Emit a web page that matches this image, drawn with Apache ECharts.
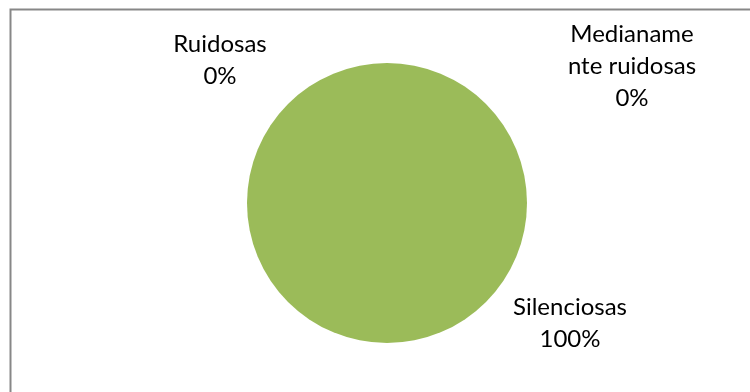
<!DOCTYPE html>
<html>
<head>
<meta charset="utf-8">
<script src="https://cdn.jsdelivr.net/npm/echarts@6/dist/echarts.min.js"></script>
<style>
  html, body { margin: 0; padding: 0; background: #ffffff; }
  #chart { width: 750px; height: 392px; }
</style>
</head>
<body>
<div id="chart"></div>
<script>
// Noise classification of the surveyed spaces
const categories = ['Silenciosas', 'Medianamente ruidosas', 'Ruidosas'];
const labelNames = ['Silenciosas', 'Medianame\nnte ruidosas', 'Ruidosas'];
const values = [100, 0, 0];

// Where each category label sits (block centre, px)
const labelAnchors = [[570, 323], [632, 66], [220, 60]];

const total = values.reduce((a, b) => a + b, 0);
const pieData = categories.map((name, i) => ({ name: name, value: values[i] }));

const chart = echarts.init(document.getElementById('chart'), null, { renderer: 'canvas' });

chart.setOption({
  backgroundColor: '#ffffff',
  animation: false,
  graphic: [{
    type: 'polyline',
    shape: { points: [[10.5, 392], [10.5, 9.5], [750, 9.5]] },
    style: { stroke: '#878787', lineWidth: 2, fill: null },
    silent: true
  }],
  series: [{
    type: 'pie',
    center: [387, 203],
    radius: [0, 140],
    startAngle: 90,
    clockwise: true,
    avoidLabelOverlap: false,
    color: ['#9BBB59', '#C0504D', '#4F81BD'],
    itemStyle: { borderWidth: 0 },
    data: pieData,
    label: {
      show: true,
      position: 'outside',
      fontFamily: 'Lato',
      fontSize: 24,
      lineHeight: 32,
      color: '#000000',
      align: 'center',
      formatter: (p) => labelNames[p.dataIndex] + '\n' + Math.round(p.value / total * 100) + '%'
    },
    labelLine: { show: false },
    labelLayout: (params) => ({
      x: labelAnchors[params.dataIndex][0],
      y: labelAnchors[params.dataIndex][1],
      align: 'center',
      verticalAlign: 'middle'
    })
  }]
});
</script>
</body>
</html>
